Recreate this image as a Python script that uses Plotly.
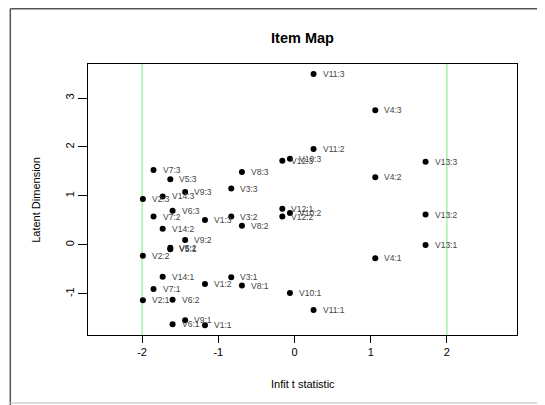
import plotly.graph_objects as go

# Item data: infit t statistic and three threshold locations (latent dimension)
items = ["V1", "V2", "V3", "V4", "V5", "V6", "V7", "V8", "V9", "V10", "V11", "V12", "V13", "V14"]
infit = [-1.175, -1.99, -0.83, 1.06, -1.63, -1.60, -1.85, -0.69, -1.435, -0.06, 0.25, -0.16, 1.72, -1.73]
thr1 = [-1.64, -1.13, -0.66, -0.27, -0.09, -1.62, -0.90, -0.83, -1.54, -0.98, -1.33, 0.74, 0.00, -0.65]
thr2 = [-0.80, -0.22, 0.58, 1.38, -0.06, -1.12, 0.58, 0.39, 0.10, 0.65, 1.96, 0.58, 0.62, 0.33]
thr3 = [0.51, 0.94, 1.15, 2.75, 1.34, 0.70, 1.53, 1.49, 1.08, 1.76, 3.49, 1.72, 1.70, 0.99]

x_ticks = [-2, -1, 0, 1, 2]
x_ticklabels = ["-2", "-1", "0", "1", "2"]
y_ticks = [-1, 0, 1, 2, 3]
y_ticklabels = ["-1", "0", "1", "2", "3"]

xs, ys, labels = [], [], []
for k, thr in enumerate([thr1, thr2, thr3], start=1):
    for name, xv, yv in zip(items, infit, thr):
        xs.append(xv)
        ys.append(yv)
        labels.append(f"{name}:{k}")

FONT = "Liberation Sans, Arial, sans-serif"

# page body has an 8px margin: figure origin is at screen (8, 8)
W, H = 537, 397
L, T = 87.7 - 8, 64.3 - 8
R = W - (516.7 - 8)
B = H - (335 - 8)
PW, PH = W - L - R, H - T - B


def px(xf):
    return (xf - L) / PW


def py(yf):
    return 1 - (yf - T) / PH


fig = go.Figure()
fig.add_trace(go.Scatter(
    x=xs, y=ys, mode="markers",
    marker=dict(color="black", size=6),
    showlegend=False, text=labels, hoverinfo="text",
))

annotations = [
    dict(x=xv, y=yv, xref="x", yref="y", text=lab, showarrow=False,
         xanchor="left", yanchor="middle", xshift=7,
         font=dict(family=FONT, size=8.5, color="#444444"))
    for xv, yv, lab in zip(xs, ys, labels)
]

for xv in [-2, 2]:
    fig.add_shape(type="line", xref="x", yref="paper", x0=xv, x1=xv, y0=0, y1=1,
                  line=dict(color="#90EE90", width=1.2), layer="below")

# outer frame (inset style)
fig.add_shape(type="line", xref="paper", yref="paper", x0=px(2), x1=px(W),
              y0=py(1), y1=py(1), line=dict(color="#555555", width=1.5))
fig.add_shape(type="line", xref="paper", yref="paper", x0=px(2), x1=px(2),
              y0=py(H), y1=py(1), line=dict(color="#555555", width=1.5))
fig.add_shape(type="line", xref="paper", yref="paper", x0=px(2), x1=px(W),
              y0=py(395), y1=py(395), line=dict(color="#d0d0d0", width=1.5))

annotations += [
    dict(text="Infit t statistic", xref="paper", yref="paper", x=0.5, y=0,
         yshift=-49, showarrow=False, yanchor="middle",
         font=dict(family=FONT, size=11, color="black")),
    dict(text="Latent Dimension", xref="paper", yref="paper", x=0, y=0.5,
         xshift=-52.7, showarrow=False, textangle=-90, xanchor="center",
         font=dict(family=FONT, size=11, color="black")),
]

fig.update_layout(
    width=W, height=H,
    margin=dict(l=L, r=R, t=T, b=B),
    paper_bgcolor="white", plot_bgcolor="white",
    title=dict(text="<b>Item Map</b>", x=(302.5 - 8) / W, xanchor="center",
               y=1 - (38 - 8) / H, yanchor="middle",
               font=dict(family=FONT, size=14.5, color="black")),
    xaxis=dict(range=[-2.71, 2.92], tickvals=x_ticks, ticktext=x_ticklabels,
               showgrid=False, zeroline=False,
               showline=True, linecolor="black", linewidth=1, mirror=True,
               ticks="outside", ticklen=7, tickcolor="black",
               tickfont=dict(family=FONT, size=11, color="black")),
    yaxis=dict(range=[-1.84, 3.695], tickvals=y_ticks, ticktext=y_ticklabels,
               showgrid=False, zeroline=False,
               showline=True, linecolor="black", linewidth=1, mirror=True,
               ticks="outside", ticklen=9, tickcolor="black", tickangle=-90,
               tickfont=dict(family=FONT, size=11, color="black")),
    annotations=annotations,
)

fig.write_html("out.html")
